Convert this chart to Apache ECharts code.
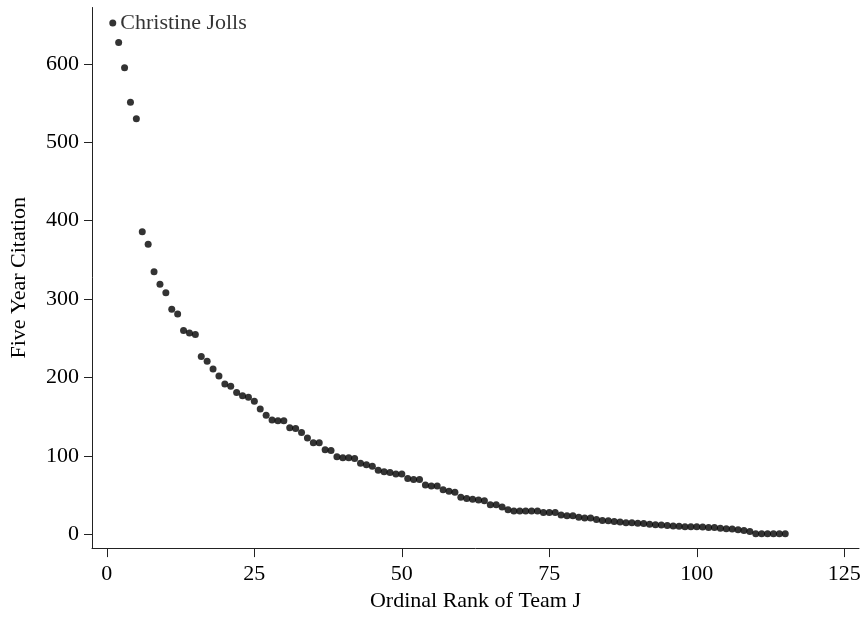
<!DOCTYPE html>
<html>
<head>
<meta charset="utf-8">
<script src="https://cdn.jsdelivr.net/npm/echarts@6/dist/echarts.min.js"></script>
<style>
html,body{margin:0;padding:0;background:#fff;}
#chart{width:866px;height:617px;}
</style>
</head>
<body>
<div id="chart"></div>
<script>
// Five-year citation counts, ordered by rank (rank = position + 1)
var citations = [
  652, 627, 595, 551, 530, 386, 370, 335, 319, 308,
  287, 281, 260, 257, 255, 227, 221, 211, 202, 192,
  189, 181, 177, 175, 170, 160, 152, 146, 145, 145,
  136, 135, 130, 123, 117, 117, 108, 107, 99, 98,
  98, 97, 91, 89, 87, 82, 80, 79, 77, 77,
  71.5, 70, 70, 63, 62, 62, 57, 55, 54, 47.5,
  46, 45, 44, 43, 38, 38, 35, 31.5, 30, 30,
  30, 30, 30, 28, 28, 28, 25, 24, 24, 22,
  21, 21, 19.3, 18, 17.5, 16.5, 16, 15, 15, 14.5,
  14, 13, 12.5, 12, 11.5, 11, 10.5, 10, 10, 9.8,
  9.5, 9, 8.8, 8, 7.5, 7, 6, 5, 4, 1,
  1, 1, 1, 1, 1
];
var labeledName = 'Christine Jolls';
var xTicks = [0, 25, 50, 75, 100, 125];
var yTicks = [0, 100, 200, 300, 400, 500, 600];
var xTitle = 'Ordinal Rank of Team J';
var yTitle = 'Five Year Citation';

var font = 'Liberation Serif';
var axisColor = '#222';
var fs = 22;

var points = citations.map(function (v, i) {
  var p = { value: [i + 1, v] };
  if (i === 0) {
    p.label = { show: true, formatter: labeledName, position: 'right', distance: 4,
                fontFamily: font, fontSize: fs, color: '#000' };
  }
  return p;
});

var chart = echarts.init(document.getElementById('chart'), null, { renderer: 'canvas' });
chart.setOption({
  animation: false,
  backgroundColor: '#fff',
  grid: { left: 85.7, right: 7, top: 7.5, bottom: 63.3, containLabel: false },
  xAxis: {
    type: 'value',
    min: -2.52,
    max: 127.5,
    name: xTitle,
    nameLocation: 'middle',
    nameGap: 34,
    nameTextStyle: { fontFamily: font, fontSize: fs, color: '#000' },
    axisLine: { show: true, onZero: false, lineStyle: { color: axisColor, width: 1 } },
    axisTick: { show: true, customValues: xTicks, length: 9, lineStyle: { color: axisColor, width: 1 } },
    axisLabel: { show: true, customValues: xTicks, fontFamily: font, fontSize: fs, color: '#000', margin: 15 },
    splitLine: { show: false }
  },
  yAxis: {
    type: 'value',
    min: -17.3,
    max: 671.7,
    name: yTitle,
    nameLocation: 'middle',
    nameGap: 62,
    nameTextStyle: { fontFamily: font, fontSize: fs, color: '#000' },
    axisLine: { show: true, onZero: false, lineStyle: { color: axisColor, width: 1 } },
    axisTick: { show: true, customValues: yTicks, length: 8, lineStyle: { color: axisColor, width: 1 } },
    axisLabel: { show: true, customValues: yTicks, fontFamily: font, fontSize: fs, color: '#000', margin: 13 },
    splitLine: { show: false }
  },
  series: [{
    type: 'scatter',
    data: points,
    symbol: 'circle',
    symbolSize: 7,
    itemStyle: { color: '#000' },
    label: { show: false }
  }]
});
</script>
</body>
</html>
